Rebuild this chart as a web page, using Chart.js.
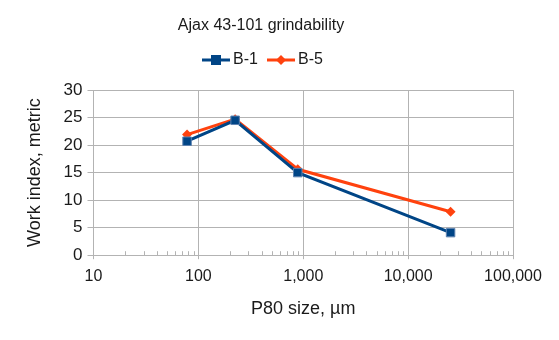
<!DOCTYPE html>
<html>
<head>
<meta charset="utf-8">
<script src="https://cdn.jsdelivr.net/npm/chart.js@4"></script>
<style>
  html, body { margin: 0; padding: 0; background: #fff; }
  #wrap { width: 559px; height: 340px; }
</style>
</head>
<body>
<div id="wrap"><canvas id="chart" width="559" height="340"></canvas></div>
<script>
// P80 sizes (µm) and work index values
const sizesB1 = [78, 224, 886, 25400];
const workB1 = [20.7, 24.5, 15.0, 4.1];
const sizesB5 = [78, 224, 886, 25400];
const workB5 = [21.9, 24.7, 15.6, 7.9];
const xTicks = [10, 100, 1000, 10000, 100000];
const yTicks = [0, 5, 10, 15, 20, 25, 30];
const chartTitle = 'Ajax 43-101 grindability';

const blue = '#004586';
const orange = '#ff420e';
const gridGray = '#b3b3b3';
const textColor = '#1a1a1a';
const font = '"Liberation Sans", Arial, sans-serif';

function drawMarker(g, style, x, y, color) {
  g.fillStyle = color;
  if (style === 'rect') {
    g.fillRect(x - 5, y - 5, 10, 10);
  } else {
    g.beginPath();
    g.moveTo(x, y - 5); g.lineTo(x + 5, y); g.lineTo(x, y + 5); g.lineTo(x - 5, y);
    g.closePath(); g.fill();
  }
}

// title + legend, plus minor ticks on the log axis
const decorations = {
  id: 'decorations',
  afterDraw(chart) {
    const ctx = chart.ctx;
    ctx.save();
    ctx.fillStyle = textColor;
    ctx.textBaseline = 'middle';
    ctx.textAlign = 'center';
    ctx.font = '16px ' + font;
    ctx.fillText(chartTitle, 261, 26);

    // legend
    ctx.textAlign = 'left';
    let lx = 202;
    chart.data.datasets.forEach(ds => {
      ctx.strokeStyle = ds.borderColor;
      ctx.lineWidth = 3;
      ctx.beginPath(); ctx.moveTo(lx, 60); ctx.lineTo(lx + 28, 60); ctx.stroke();
      drawMarker(ctx, ds.pointStyle === 'rect' ? 'rect' : 'diamond', lx + 14, 60, ds.borderColor);
      ctx.fillStyle = textColor;
      ctx.fillText(ds.label, lx + 31, 60);
      lx += 65;
    });

    // minor ticks, drawn inward from the x axis
    const xs = chart.scales.x;
    ctx.strokeStyle = gridGray;
    ctx.lineWidth = 1;
    for (let d = xTicks[0]; d < xTicks[xTicks.length - 1]; d *= 10) {
      for (let k = 2; k < 10; k++) {
        const px = Math.round(xs.getPixelForValue(d * k)) + 0.5;
        ctx.beginPath();
        ctx.moveTo(px, xs.top);
        ctx.lineTo(px, xs.top - 4);
        ctx.stroke();
      }
    }
    ctx.restore();
  }
};

new Chart(document.getElementById('chart'), {
  type: 'line',
  data: {
    datasets: [
      {
        label: 'B-1',
        data: sizesB1.map((x, i) => ({ x: x, y: workB1[i] })),
        borderColor: blue,
        backgroundColor: blue,
        borderWidth: 3,
        pointStyle: 'rect',
        pointRadius: 6,
        pointBorderWidth: 1,
        pointBorderColor: '#5d82b0',
        order: 1
      },
      {
        label: 'B-5',
        data: sizesB5.map((x, i) => ({ x: x, y: workB5[i] })),
        borderColor: orange,
        backgroundColor: orange,
        borderWidth: 3,
        pointStyle: 'rectRot',
        pointRadius: 5,
        pointBorderWidth: 0,
        order: 2
      }
    ]
  },
  options: {
    responsive: false,
    animation: false,
    layout: { padding: { left: 24, right: 46, top: 90, bottom: 20 } },
    plugins: {
      title: { display: false },
      legend: { display: false },
      tooltip: { enabled: false }
    },
    scales: {
      x: {
        type: 'logarithmic',
        min: 10,
        max: 100000,
        afterBuildTicks(scale) {
          scale.ticks = xTicks.map(v => ({ value: v }));
        },
        ticks: {
          color: textColor,
          font: { family: font, size: 16 },
          padding: 8,
          maxRotation: 0,
          autoSkip: false,
          callback: v => Number(v).toLocaleString('en-US')
        },
        grid: { color: gridGray, tickLength: 4 },
        border: { color: gridGray },
        title: {
          display: true,
          text: 'P80 size, µm',
          color: textColor,
          font: { family: font, size: 18 },
          padding: { top: 4, bottom: 0 }
        }
      },
      y: {
        min: 0,
        max: 30,
        afterBuildTicks(scale) {
          scale.ticks = yTicks.map(v => ({ value: v }));
        },
        ticks: {
          color: textColor,
          font: { family: font, size: 17 },
          padding: 5
        },
        grid: { color: gridGray, tickLength: 6 },
        border: { color: gridGray },
        title: {
          display: true,
          text: 'Work index, metric',
          color: textColor,
          font: { family: font, size: 18 },
          padding: { top: 0, bottom: 13 }
        }
      }
    }
  },
  plugins: [decorations]
});
</script>
</body>
</html>
